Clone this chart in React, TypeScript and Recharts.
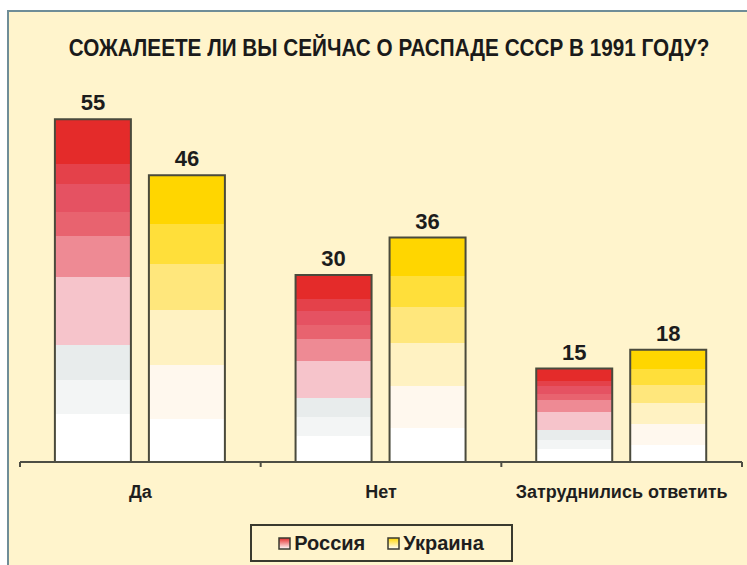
import { BarChart, Bar, XAxis, YAxis, Legend, LabelList } from 'recharts';

const categories = ['Да', 'Нет', 'Затруднились ответить'];
const russia = [55, 30, 15];
const ukraine = [46, 36, 18];

const title = 'СОЖАЛЕЕТЕ ЛИ ВЫ СЕЙЧАС О РАСПАДЕ СССР В 1991 ГОДУ?';

const data = categories.map((name, i) => ({
  name,
  russia: russia[i],
  ukraine: ukraine[i],
}));

const regular = '"Liberation Sans", Arial, sans-serif';
const axisColor = '#4e4e44';

// banded fills, top of bar -> bottom of bar
const redBands: [number, number, string][] = [
  [0, 0.13, '#e42b2a'],
  [0.13, 0.19, '#e4414a'],
  [0.19, 0.27, '#e55262'],
  [0.27, 0.34, '#e8636f'],
  [0.34, 0.46, '#ee8a94'],
  [0.46, 0.66, '#f6c4cb'],
  [0.66, 0.76, '#e8ecec'],
  [0.76, 0.86, '#f3f5f5'],
  [0.86, 1, '#ffffff'],
];
const yellowBands: [number, number, string][] = [
  [0, 0.17, '#ffd600'],
  [0.17, 0.31, '#ffdf3a'],
  [0.31, 0.47, '#ffe77c'],
  [0.47, 0.66, '#fff2c2'],
  [0.66, 0.85, '#fff8ee'],
  [0.85, 1, '#ffffff'],
];

function bandStops(bands: [number, number, string][]) {
  return bands.flatMap(([a, b, c], i) => [
    <stop key={i + 'a'} offset={a} stopColor={c} />,
    <stop key={i + 'b'} offset={b} stopColor={c} />,
  ]);
}

// label under the category + tick marks on the category boundaries
function CategoryTick({ x, y, payload, index, visibleTicksCount, width }: any) {
  const half = payload.offset || width / visibleTicksCount / 2;
  const last = index === visibleTicksCount - 1;
  return (
    <g>
      <line x1={x - half} y1={y} x2={x - half} y2={y + 5} stroke={axisColor} strokeWidth={2} />
      {last && <line x1={x + half} y1={y} x2={x + half} y2={y + 5} stroke={axisColor} strokeWidth={2} />}
      <g transform={`translate(${x} ${y + 36}) scale(1 1.05)`}>
        <text
          x={0}
          y={0}
          textAnchor="middle"
          style={{ fontFamily: regular, fontWeight: 700, fontSize: 18, fill: '#1e1e1e' }}
        >
          {payload.value}
        </text>
      </g>
    </g>
  );
}

function LegendBox() {
  const item = (label: string, fill: string) => (
    <span style={{ display: 'flex', alignItems: 'center', gap: 3 }}>
      <svg width={13} height={13}>
        <rect x={1} y={1} width={11} height={11} fill={fill} stroke="#3a3a30" strokeWidth={1.5} />
      </svg>
      <span>{label}</span>
    </span>
  );
  return (
    <div style={{ display: 'flex', justifyContent: 'center' }}>
      <div
        style={{
          boxSizing: 'border-box',
          width: 263,
          height: 38,
          border: '2px solid #3a3a2e',
          background: '#fff4cc',
          display: 'flex',
          alignItems: 'center',
          justifyContent: 'center',
          gap: 22,
          fontFamily: regular,
          fontWeight: 700,
          fontSize: 20,
          color: '#1e1e1e',
        }}
      >
        {item('Россия', 'url(#legRed)')}
        {item('Украина', 'url(#legYellow)')}
      </div>
    </div>
  );
}

export default function App() {
  return (
    <div style={{ position: 'absolute', left: 0, top: 0, width: 747, height: 565, background: '#ffffff', overflow: 'hidden' }}>
      <div
        style={{
          position: 'absolute',
          left: 7,
          top: 10,
          width: 760,
          height: 570,
          background: '#fff4cc',
          borderLeft: '2px solid #6f8d97',
          borderTop: '2px solid #6f8d97',
        }}
      />
      <svg width={747} height={565} style={{ position: 'absolute', left: 0, top: 0 }}>
        <defs>
          <linearGradient id="legRed" x1="0" y1="0" x2="0" y2="1">
            <stop offset="0" stopColor="#e42b2a" />
            <stop offset="1" stopColor="#ffffff" />
          </linearGradient>
          <linearGradient id="legYellow" x1="0" y1="0" x2="0" y2="1">
            <stop offset="0" stopColor="#ffd600" />
            <stop offset="1" stopColor="#ffffff" />
          </linearGradient>
        </defs>
        <g transform="translate(389 56) scale(0.9 1.05)">
          <text
            x={0}
            y={0}
            textAnchor="middle"
            style={{ fontFamily: regular, fontWeight: 700, fontSize: 23, fill: '#1a1a1a' }}
          >
            {title}
          </text>
        </g>
      </svg>
      <div style={{ position: 'absolute', left: 0, top: 0 }}>
        <BarChart
          width={747}
          height={565}
          data={data}
          margin={{ top: 88, right: 5, bottom: 3, left: 20 }}
          barCategoryGap="14.5%"
          barGap={18}
        >
          <defs>
            <linearGradient id="gradRed" x1="0" y1="0" x2="0" y2="1">
              {bandStops(redBands)}
            </linearGradient>
            <linearGradient id="gradYellow" x1="0" y1="0" x2="0" y2="1">
              {bandStops(yellowBands)}
            </linearGradient>
          </defs>
          <XAxis
            dataKey="name"
            axisLine={{ stroke: axisColor, strokeWidth: 2 }}
            tickLine={false}
            tickSize={0}
            tickMargin={0}
            height={62}
            interval={0}
            tick={<CategoryTick />}
          />
          <YAxis hide domain={[0, 60]} />
          <Legend verticalAlign="bottom" content={<LegendBox />} />
          <Bar dataKey="russia" name="Россия" fill="url(#gradRed)" stroke="#4a4a3c" strokeWidth={2} isAnimationActive={false}>
            <LabelList
              dataKey="russia"
              position="top"
              offset={9}
              style={{ fontFamily: regular, fontWeight: 700, fontSize: 22, fill: '#1c1c1c' }}
            />
          </Bar>
          <Bar dataKey="ukraine" name="Украина" fill="url(#gradYellow)" stroke="#4a4a3c" strokeWidth={2} isAnimationActive={false}>
            <LabelList
              dataKey="ukraine"
              position="top"
              offset={9}
              style={{ fontFamily: regular, fontWeight: 700, fontSize: 22, fill: '#1c1c1c' }}
            />
          </Bar>
        </BarChart>
      </div>
    </div>
  );
}
